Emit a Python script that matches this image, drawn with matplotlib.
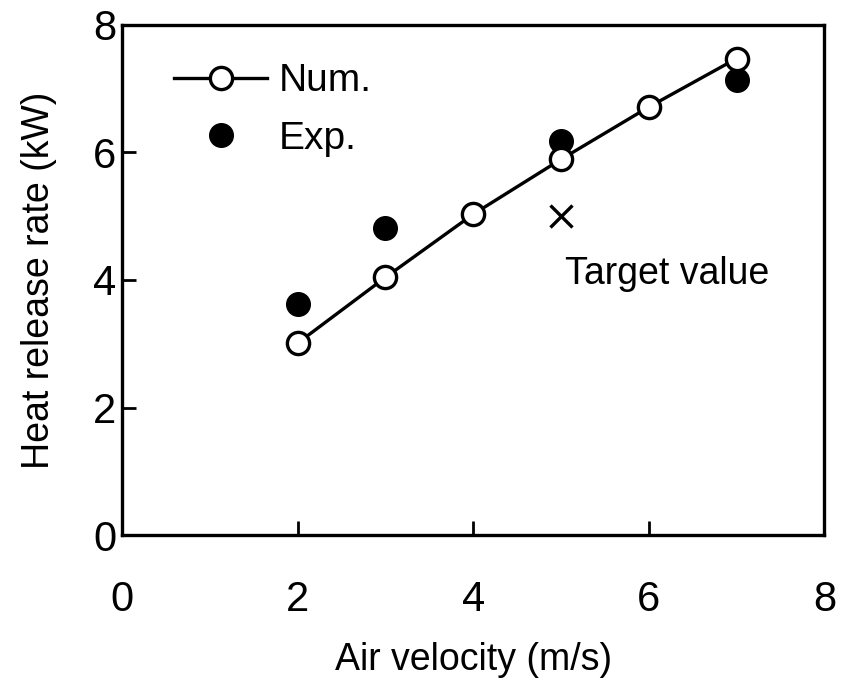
import numpy as np
import matplotlib.pyplot as plt

plt.rcParams['font.family'] = ['Liberation Sans', 'DejaVu Sans']

# numerical results
num_v = [2, 3, 4, 5, 6, 7]
num_q = [3.01, 4.04, 5.03, 5.89, 6.71, 7.47]
# experiment
exp_v = [2, 3, 5, 7]
exp_q = [3.62, 4.81, 6.18, 7.14]
# target
target_v = [5]
target_q = [5.0]

fig = plt.figure(figsize=(8.42, 6.87), dpi=100)
ax = fig.add_axes([0.145, 0.221, 0.834, 0.743])

ax.plot(num_v, num_q, '-o', color='black', mfc='white', mec='black',
        ms=16, mew=2.4, lw=2.4, label='Num.', zorder=3)
ax.plot(exp_v, exp_q, 'o', color='black', ms=17, label='Exp.', zorder=2)
ax.plot(target_v, target_q, 'x', color='black', ms=16, mew=2.4)
ax.text(5.05, 4.1, 'Target value', fontsize=27, ha='left', va='center')

ax.set_xlim(0, 8)
ax.set_ylim(0, 8)
ax.set_xticks([0, 2, 4, 6, 8])
ax.set_yticks([0, 2, 4, 6, 8])
ax.tick_params(direction='in', length=10, width=2, labelsize=30)
ax.tick_params(axis='x', pad=32)
ax.tick_params(axis='y', pad=4)
for s in ax.spines.values():
    s.set_linewidth(2.4)
ax.set_xlabel('Air velocity (m/s)', fontsize=27, labelpad=16)
ax.set_ylabel('Heat release rate (kW)', fontsize=27, labelpad=26)

ax.legend(loc='upper left', bbox_to_anchor=(0.052, 0.955), frameon=False,
          fontsize=28, handlelength=2.4, handletextpad=0.3, labelspacing=0.55,
          borderaxespad=0.0)

plt.savefig('out.png', dpi=100)
